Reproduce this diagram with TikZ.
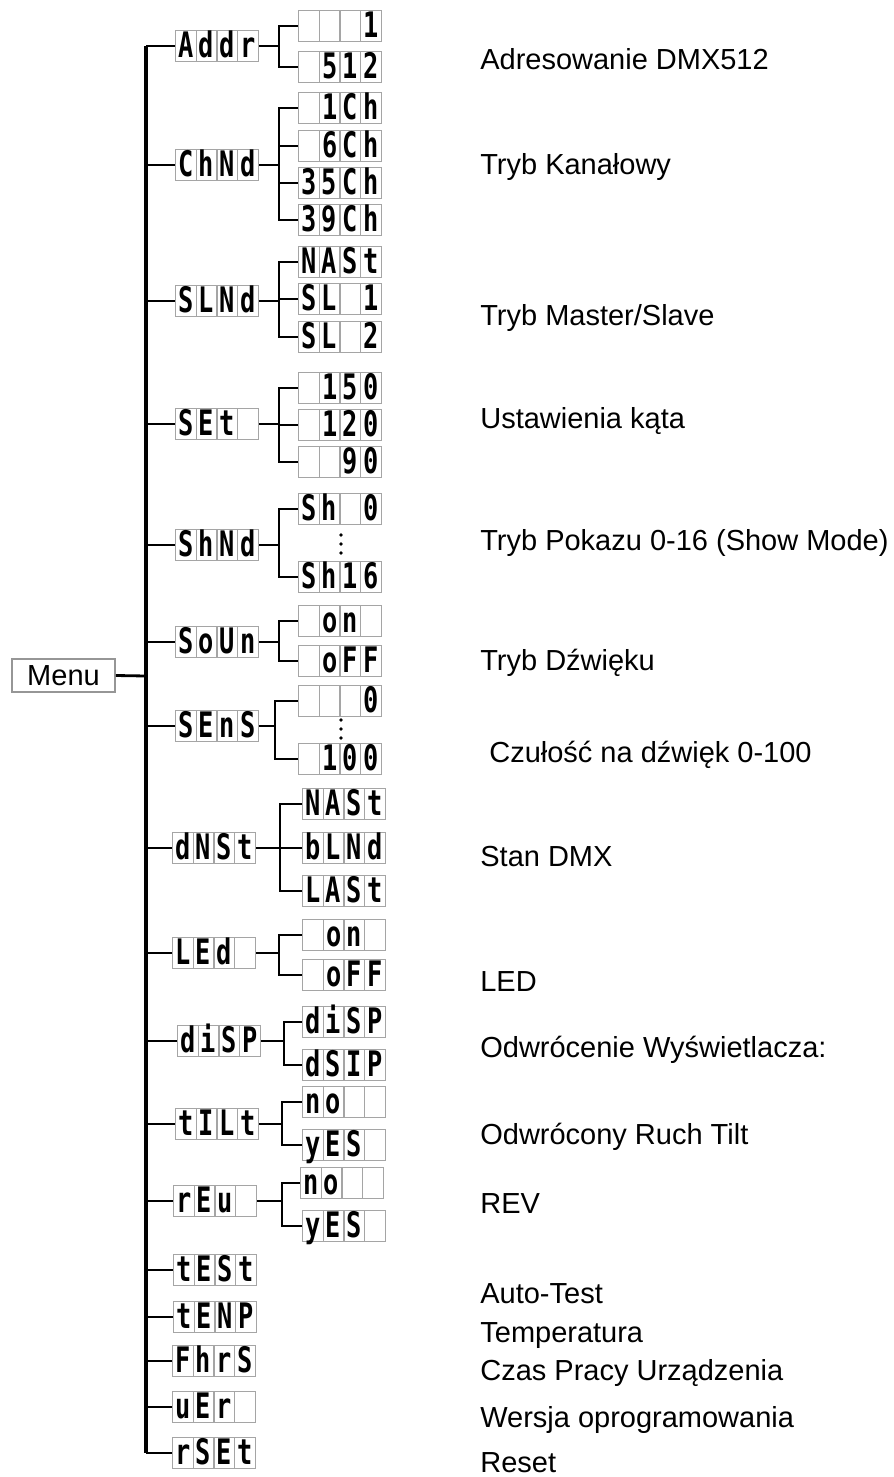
\documentclass[tikz,border=0pt]{standalone}
\usepackage{fontspec}
\setmainfont{Liberation Sans}
\newfontfamily\segfont[FakeStretch=0.72]{DejaVu Sans Mono}
\definecolor{MenuGray}{RGB}{150,150,150}
\definecolor{CellGray}{RGB}{165,165,165}
\newcommand{\segs}[4]{\makebox[0.415cm]{#1}\makebox[0.415cm]{#2}\makebox[0.415cm]{#3}\makebox[0.415cm]{#4}}
\tikzset{
  menu/lcd/.style={
    draw=CellGray,
    line width=0.8pt,
    fill=white,
    inner sep=0pt,
    minimum width=1.66cm,
    minimum height=0.62cm,
    text height=0.54cm,
    text depth=0.08cm,
    font={\segfont\bfseries\fontsize{20pt}{20pt}\selectfont},
    path picture={
      \foreach \k in {1,2,3}
        \draw[CellGray, line width=0.8pt]
          ([xshift={\k*0.415cm}]path picture bounding box.south west) --
          ([xshift={\k*0.415cm}]path picture bounding box.north west);
    }
  },
  menu/box/.style={
    draw=MenuGray,
    line width=0.9pt,
    inner sep=0pt,
    minimum width=2.06cm,
    minimum height=0.66cm,
    font={\fontsize{16.5pt}{18pt}\selectfont}
  },
  menu/label/.style={anchor=base west, inner sep=0pt, font={\fontsize{16.5pt}{20pt}\selectfont}},
  menu/link/.style={line width=0.9pt, draw=black},
  menu/boldlink/.style={line width=1.5pt, draw=black},
  menu/trunk/.style={line width=1.9pt, draw=black}
}

\begin{document}
\begin{tikzpicture}[x=0.02cm,y=-0.02cm]
  \useasboundingbox (0,0) rectangle (893,1477);
  % root
  \node[menu/box] (menu) at (63.5,675.5) {Menu};
  \coordinate (trunkx) at (146,676);
  % first level
  \node[menu/lcd] (addr) at (217,46) {\segs{A}{d}{d}{r}};
  \node[menu/lcd] (chnd) at (217,165) {\segs{C}{h}{N}{d}};
  \node[menu/lcd] (slnd) at (217,301) {\segs{S}{L}{N}{d}};
  \node[menu/lcd] (sett) at (217,424) {\segs{S}{E}{t}{}};
  \node[menu/lcd] (shnd) at (217,545) {\segs{S}{h}{N}{d}};
  \node[menu/lcd] (soun) at (217,642) {\segs{S}{o}{U}{n}};
  \node[menu/lcd] (sens) at (217,726) {\segs{S}{E}{n}{S}};
  \node[menu/lcd] (dnst) at (214,848) {\segs{d}{N}{S}{t}};
  \node[menu/lcd] (led)  at (214,953) {\segs{L}{E}{d}{}};
  \node[menu/lcd] (disp) at (219,1041) {\segs{d}{i}{S}{P}};
  \node[menu/lcd] (tilt) at (217,1124) {\segs{t}{I}{L}{t}};
  \node[menu/lcd] (rev)  at (215,1201) {\segs{r}{E}{u}{}};
  \node[menu/lcd] (test) at (215,1270) {\segs{t}{E}{S}{t}};
  \node[menu/lcd] (temp) at (215,1317) {\segs{t}{E}{N}{P}};
  \node[menu/lcd] (fhrs) at (214,1361) {\segs{F}{h}{r}{S}};
  \node[menu/lcd] (ver)  at (214,1407) {\segs{u}{E}{r}{}};
  \node[menu/lcd] (rset) at (214,1453) {\segs{r}{S}{E}{t}};
  % second level
  \node[menu/lcd] (addr1) at (340,26) {\segs{}{}{}{1}};
  \node[menu/lcd] (addr2) at (340,67) {\segs{}{5}{1}{2}};
  \node[menu/lcd] (chnd1) at (340,108) {\segs{}{1}{C}{h}};
  \node[menu/lcd] (chnd2) at (340,146) {\segs{}{6}{C}{h}};
  \node[menu/lcd] (chnd3) at (340,183) {\segs{3}{5}{C}{h}};
  \node[menu/lcd] (chnd4) at (340,220) {\segs{3}{9}{C}{h}};
  \node[menu/lcd] (slnd1) at (340,262) {\segs{N}{A}{S}{t}};
  \node[menu/lcd] (slnd2) at (340,299) {\segs{S}{L}{}{1}};
  \node[menu/lcd] (slnd3) at (340,337) {\segs{S}{L}{}{2}};
  \node[menu/lcd] (sett1) at (340,388) {\segs{}{1}{5}{0}};
  \node[menu/lcd] (sett2) at (340,425) {\segs{}{1}{2}{0}};
  \node[menu/lcd] (sett3) at (340,462) {\segs{}{}{9}{0}};
  \node[menu/lcd] (shnd1) at (340,509) {\segs{S}{h}{}{0}};
  \node[menu/lcd] (shnd2) at (340,577) {\segs{S}{h}{1}{6}};
  \node[menu/lcd] (soun1) at (340,621) {\segs{}{o}{n}{}};
  \node[menu/lcd] (soun2) at (340,661) {\segs{}{o}{F}{F}};
  \node[menu/lcd] (sens1) at (340,701) {\segs{}{}{}{0}};
  \node[menu/lcd] (sens2) at (340,759) {\segs{}{1}{0}{0}};
  \node[menu/lcd] (dnst1) at (344,804) {\segs{N}{A}{S}{t}};
  \node[menu/lcd] (dnst2) at (344,848) {\segs{b}{L}{N}{d}};
  \node[menu/lcd] (dnst3) at (344,891) {\segs{L}{A}{S}{t}};
  \node[menu/lcd] (led1)  at (344,935) {\segs{}{o}{n}{}};
  \node[menu/lcd] (led2)  at (344,975) {\segs{}{o}{F}{F}};
  \node[menu/lcd] (disp1) at (344,1022) {\segs{d}{i}{S}{P}};
  \node[menu/lcd] (disp2) at (344,1065) {\segs{d}{S}{I}{P}};
  \node[menu/lcd] (tilt1) at (344,1102) {\segs{n}{o}{}{}};
  \node[menu/lcd] (tilt2) at (344,1145) {\segs{y}{E}{S}{}};
  \node[menu/lcd] (rev1)  at (342,1183) {\segs{n}{o}{}{}};
  \node[menu/lcd] (rev2)  at (344,1226) {\segs{y}{E}{S}{}};
  % skipped values
  \foreach \y in {535,544,553,720,729,738}
    \fill (341,\y) circle (1.8);
  % connectors
  \draw[menu/link, line width=1.6pt] (menu.east) -- (trunkx);
  \draw[menu/trunk] (addr.west -| trunkx) -- (rset.west -| trunkx);
  \foreach \n in {addr,chnd,slnd,soun,sens,led,disp,tilt,rev,ver}
    \draw[menu/link] (\n.west -| trunkx) -- (\n.west);
  \foreach \n in {sett,shnd,dnst,test,temp,fhrs,rset}
    \draw[menu/boldlink] (\n.west -| trunkx) -- (\n.west);
  \foreach \p/\d/\kids in {addr/19.5/{addr1,addr2}, chnd/19.5/{chnd1,chnd2,chnd3,chnd4},
      slnd/19.5/{slnd1,slnd2,slnd3}, sett/19.5/{sett1,sett2,sett3}, shnd/19.5/{shnd1,shnd2},
      soun/19.5/{soun1,soun2}, sens/15.5/{sens1,sens2}, dnst/23.5/{dnst1,dnst2,dnst3},
      led/22.5/{led1,led2}, disp/22.5/{disp1,disp2}, tilt/22.5/{tilt1,tilt2}, rev/24.5/{rev1,rev2}}
    \foreach \c in \kids
      \draw[menu/link, line width=1.2pt] (\p.east) -- ++(\d,0) |- (\c.west);
  % descriptions
  \node[menu/label] (taddr) at (480,70) {Adresowanie DMX512};
  \node[menu/label] (tchnd) at (480,174) {Tryb Kanałowy};
  \node[menu/label] (tslnd) at (480,325) {Tryb Master/Slave};
  \node[menu/label] (tsett) at (480,428) {Ustawienia kąta};
  \node[menu/label] (tshnd) at (480,550) {Tryb Pokazu 0-16 (Show Mode)};
  \node[menu/label] (tsoun) at (480,670) {Tryb Dźwięku};
  \node[menu/label] (tsens) at (489,762) {Czułość na dźwięk 0-100};
  \node[menu/label] (tdnst) at (480,866) {Stan DMX};
  \node[menu/label] (tled)  at (480,991) {LED};
  \node[menu/label] (tdisp) at (480,1057) {Odwrócenie Wyświetlacza:};
  \node[menu/label] (ttilt) at (480,1144) {Odwrócony Ruch Tilt};
  \node[menu/label] (trev)  at (480,1213) {REV};
  \node[menu/label] (ttest) at (480,1303) {Auto-Test};
  \node[menu/label] (ttemp) at (480,1342) {Temperatura};
  \node[menu/label] (tfhrs) at (480,1380) {Czas Pracy Urządzenia};
  \node[menu/label] (tver)  at (480,1427) {Wersja oprogramowania};
  \node[menu/label] (trset) at (480,1472) {Reset};
\end{tikzpicture}
\end{document}
